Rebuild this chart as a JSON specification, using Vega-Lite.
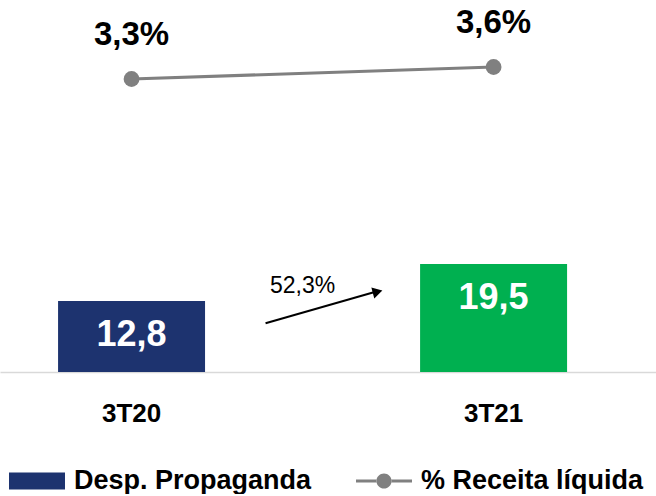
{
  "$schema": "https://vega.github.io/schema/vega-lite/v6.json",
  "width": 656,
  "height": 372,
  "padding": 0,
  "autosize": {"type": "pad"},
  "background": "white",
  "config": {
    "view": {"stroke": null},
    "font": "Liberation Sans",
    "locale": {"number": {"decimal": ",", "thousands": ".", "grouping": [3], "currency": ["R$ ", ""]}}
  },
  "data": {"values": [
    {"periodo": "3T20", "despesa": 12.8, "pct": 0.033},
    {"periodo": "3T21", "despesa": 19.5, "pct": 0.036}
  ]},
  "encoding": {
    "x": {
      "field": "periodo", "type": "nominal", "title": null,
      "scale": {"domain": ["3T20", "3T21"], "paddingInner": 0.594, "paddingOuter": 0.203, "align": 0.395},
      "axis": {"domain": true, "domainColor": "#D9D9D9", "domainWidth": 1.5, "ticks": false, "labelAngle": 0,
               "labelFont": "Liberation Sans", "labelFontWeight": "bold", "labelFontSize": 26, "labelColor": "#000000",
               "labelPadding": 28, "grid": false}
    }
  },
  "layer": [
    {
      "layer": [
        {
          "mark": {"type": "bar"},
          "encoding": {
            "y": {"field": "despesa", "type": "quantitative", "scale": {"domain": [0, 67.15]}, "axis": null},
            "color": {
              "datum": "Desp. Propaganda", "type": "nominal",
              "condition": {"test": "datum.periodo === '3T21'", "value": "#00B050"},
              "scale": {"domain": ["Desp. Propaganda", "% Receita líquida"], "range": ["#1D336F", "#808080"]},
              "legend": {
                "orient": "none", "legendX": 9, "legendY": 453, "direction": "horizontal", "title": null,
                "symbolSize": 3136, "symbolStrokeWidth": 0, "columnPadding": 44, "labelOffset": 9, "padding": 0,
                "labelFont": "Liberation Sans", "labelFontWeight": "bold", "labelFontSize": 27, "labelColor": "#000000",
                "labelLimit": 400,
                "encode": {"symbols": {"update": {
                  "shape": {"signal": "datum.label === 'Desp. Propaganda' ? 'M-1,-0.3H1V0.3H-1Z' : 'M-1,-0.055H-0.26V0.055H-1Z M0.26,-0.055H1V0.055H0.26Z M-0.27,0A0.27,0.27 0 1,0 0.27,0A0.27,0.27 0 1,0 -0.27,0Z'"},
                  "fill": {"signal": "datum.label === 'Desp. Propaganda' ? '#1D336F' : '#808080'"},
                  "stroke": {"value": "transparent"},
                  "opacity": {"value": 1}
                }}}
              }
            }
          }
        },
        {
          "mark": {"type": "text", "baseline": "middle", "dy": 34, "fontSize": 36, "fontWeight": "bold", "color": "white"},
          "encoding": {
            "y": {"field": "despesa", "type": "quantitative", "scale": {"domain": [0, 67.15]}, "axis": null},
            "text": {"field": "despesa", "type": "quantitative", "format": ".1f"}
          }
        },
        {
          "data": {"values": [{"de": "3T20", "para": "3T21", "y_ini": 8.8, "y_fim": 14.5, "rotulo": "52,3%", "y_rotulo": 15.5}]},
          "layer": [
            {
              "mark": {"type": "rule", "color": "#000000", "strokeWidth": 2, "xOffset": 134, "x2Offset": -118},
              "encoding": {
                "x": {"field": "de", "type": "nominal"},
                "x2": {"field": "para"},
                "y": {"field": "y_ini", "type": "quantitative", "scale": {"domain": [0, 67.15]}, "axis": null},
                "y2": {"field": "y_fim"}
              }
            },
            {
              "mark": {"type": "point", "shape": "triangle-right", "filled": true, "color": "#000000", "opacity": 1, "size": 130, "angle": -15, "xOffset": -116},
              "encoding": {
                "x": {"field": "para", "type": "nominal"},
                "y": {"field": "y_fim", "type": "quantitative", "scale": {"domain": [0, 67.15]}, "axis": null}
              }
            },
            {
              "mark": {"type": "text", "fontSize": 23, "color": "#000000", "dx": 171, "baseline": "middle"},
              "encoding": {
                "x": {"field": "de", "type": "nominal"},
                "y": {"field": "y_rotulo", "type": "quantitative", "scale": {"domain": [0, 67.15]}, "axis": null},
                "text": {"field": "rotulo"}
              }
            }
          ]
        }
      ]
    },
    {
      "layer": [
        {
          "mark": {"type": "line", "strokeWidth": 3},
          "encoding": {
            "y": {"field": "pct", "type": "quantitative", "scale": {"domain": [-0.04025, 0.05275]}, "axis": null},
            "color": {"datum": "% Receita líquida", "type": "nominal"}
          }
        },
        {
          "mark": {"type": "point", "filled": true, "size": 250, "opacity": 1},
          "encoding": {
            "y": {"field": "pct", "type": "quantitative", "scale": {"domain": [-0.04025, 0.05275]}, "axis": null},
            "color": {"datum": "% Receita líquida", "type": "nominal"}
          }
        },
        {
          "mark": {"type": "text", "baseline": "middle", "dy": -44, "fontSize": 33, "fontWeight": "bold", "color": "#000000"},
          "encoding": {
            "y": {"field": "pct", "type": "quantitative", "scale": {"domain": [-0.04025, 0.05275]}, "axis": null},
            "text": {"field": "pct", "type": "quantitative", "format": ".1%"}
          }
        }
      ]
    }
  ],
  "resolve": {"scale": {"y": "independent"}}
}
